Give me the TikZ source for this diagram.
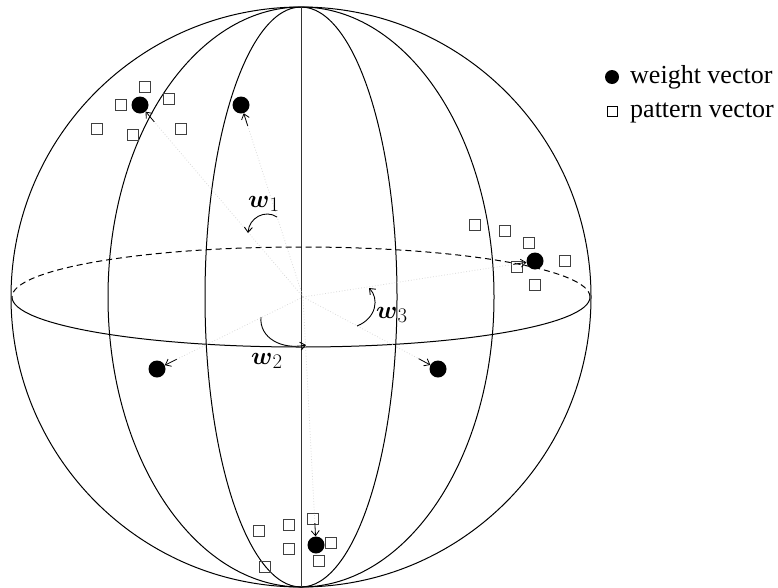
\documentclass[tikz,border=0pt]{standalone}
\usepackage{amsmath}
\usepackage{fontspec}
\setmainfont{Liberation Serif}
\usetikzlibrary{calc,arrows.meta}
\tikzset{
  sph/.style={line width=1pt, black},
  backeq/.style={line width=1pt, dash pattern=on 6pt off 4pt},
  wdot/.style={circle, fill=black, inner sep=0pt, minimum size=17pt},
  pvec/.style={rectangle, draw=black!75, line width=1.2pt, inner sep=0pt, minimum size=11.5pt},
  ray/.style={dotted, gray!30, line width=0.8pt},
  wtip/.style={-{Straight Barb[length=5pt,width=8pt]}, line width=0.8pt},
  rot/.style={-{Straight Barb[length=5pt,width=8pt]}, line width=0.9pt},
  wlab/.style={anchor=base west, inner sep=0pt, font=\fontsize{29}{33}\selectfont},
  legtxt/.style={anchor=base west, inner sep=0pt, font=\fontsize{26}{30}\selectfont},
}
\begin{document}
\begin{tikzpicture}[x=1pt,y=-1pt]
\useasboundingbox (0,0) rectangle (778,587);
\coordinate (c) at (301,297);
\coordinate (c0) at (303,297);
% sphere
\draw[sph] (c) circle[radius=290pt];
\draw[sph] (c) ellipse[x radius=96pt, y radius=290pt];
\draw[sph] (c) ellipse[x radius=193pt, y radius=290pt];
\coordinate (top) at (301,7);
\coordinate (bot) at (301,587);
\draw[sph, black!80] (top) -- (bot);
\coordinate (eqR) at (590,297);
\draw[sph] (eqR) arc[start angle=0, end angle=-180, x radius=289pt, y radius=50pt];
\draw[backeq] (eqR) arc[start angle=0, end angle=180, x radius=289pt, y radius=50pt];
% pattern vectors
\foreach \p in {(145,87),(121,105),(169,99),(97,129),(133,135),(181,129),
                (475,225),(505,231),(529,243),(517,267),(565,261),(535,285),
                (259,531),(289,525),(313,519),(289,549),(331,543),(319,561),(265,567)}
  \node[pvec] at \p {};
% weight vectors
\node[wdot] (d1) at (140,105) {};
\node[wdot] (d2) at (241,105) {};
\node[wdot] (d3) at (535,261) {};
\node[wdot] (d4) at (157,369) {};
\node[wdot] (d5) at (438,369) {};
\node[wdot] (d6) at (316,545) {};
\foreach \d in {d1,d2,d3,d4,d5,d6}{
  \draw[ray] (c0) -- (\d);
  \draw[wtip] ($(\d)!22pt!(c0)$) -- (\d);
}
% rotation arrows
\coordinate (r1a) at (277,217);
\coordinate (r1b) at (248,233);
\draw[rot] (r1a) .. controls (265,209) and (249,218) .. (r1b);
\coordinate (r2a) at (261,317);
\coordinate (r2b) at (306,345);
\draw[rot] (r2a) .. controls (259,338) and (282,350) .. (r2b);
\coordinate (r3a) at (357,326);
\coordinate (r3b) at (369,288);
\draw[rot] (r3a) .. controls (377,318) and (379,298) .. (r3b);
% labels
\node[wlab] (w1) at (248,207) {$\boldsymbol{w}_1$};
\node[wlab] (w2) at (251,364) {$\boldsymbol{w}_2$};
\node[wlab] (w3) at (376,318) {$\boldsymbol{w}_3$};
% legend
\node[circle, fill=black, inner sep=0pt, minimum size=14pt] (ld) at (612,77) {};
\node[legtxt] (lt1) at (630,83) {weight vector};
\node[rectangle, draw=black, line width=0.7pt, inner sep=0pt, minimum size=10pt] (ls) at (612,111) {};
\node[legtxt] (lt2) at (630,117) {pattern vector};
\end{tikzpicture}
\end{document}
